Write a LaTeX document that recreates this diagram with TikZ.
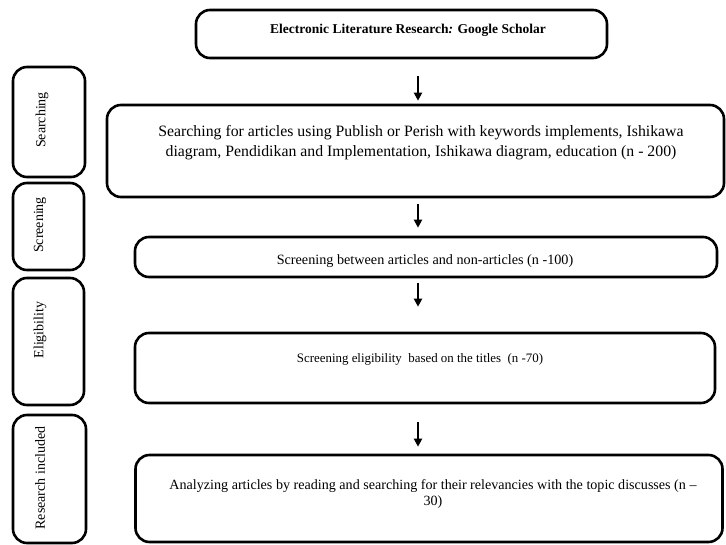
\documentclass[tikz,border=0pt]{standalone}
\usepackage{fontspec}
\setmainfont{Liberation Serif}
\usetikzlibrary{arrows.meta}
\begin{document}
\begin{tikzpicture}[x=1pt,y=-1pt,
  box/.style={draw=black, line width=2.6pt, rounded corners=14pt, inner sep=0pt},
  flow/.style={line width=2pt, -{Triangle[width=8pt,length=8pt]}},
  side/.style={rotate=90, font=\fontsize{14}{16}\selectfont},
  txt/.style={align=center, inner sep=0pt},
]
\useasboundingbox (0,0) rectangle (726,545);
% main boxes
\node[box, minimum width=411pt, minimum height=48pt] (top) at (401.5,34) {};
\node[box, minimum width=617pt, minimum height=92pt] (s2) at (415.5,151) {};
\node[box, minimum width=582pt, minimum height=40pt] (s3) at (426,257) {};
\node[box, minimum width=580pt, minimum height=70pt] (s4) at (425,368) {};
\node[box, minimum width=587pt, minimum height=87pt] (s5) at (429,498.5) {};
% side boxes
\node[box, minimum width=72pt, minimum height=110pt] (l1) at (49,122) {};
\node[box, minimum width=71pt, minimum height=87pt] (l2) at (48.5,226.5) {};
\node[box, minimum width=71pt, minimum height=127pt] (l3) at (48.5,341.5) {};
\node[box, minimum width=73pt, minimum height=128pt] (l4) at (49.5,479) {};
% texts
\node[txt, font=\bfseries\fontsize{13.5}{16}\selectfont] (ttop) at (408,30) {Electronic Literature Research\textit{:} Google Scholar};
\node[txt, font=\fontsize{15.8}{20}\selectfont] (t2) at (421,143) {Searching for articles using Publish or Perish with keywords implements, Ishikawa\\diagram, Pendidikan and Implementation, Ishikawa diagram, education (n - 200)};
\node[txt, font=\fontsize{14.2}{16}\selectfont] (t3) at (425,261) {Screening between articles and non-articles (n -100)};
\node[txt, font=\fontsize{12.9}{16}\selectfont] (t4) at (420,359) {Screening eligibility\ \ based on the titles\ \ (n -70)};
\node[txt, font=\fontsize{14.1}{16}\selectfont] (t5) at (433,494) {Analyzing articles by reading and searching for their relevancies with the topic discusses (n –\\30)};
\node[side] (sl1) at (42,120) {Searching};
\node[side] (sl2) at (40,225) {Screening};
\node[side] (sl3) at (40,330) {Eligibility};
\node[side] (sl4) at (40,478) {Research included};
% arrows
\coordinate (ax) at (418,0);
\draw[flow, shorten <=17pt, shorten >=3pt] (top.south -| ax) -- (s2.north -| ax);
\draw[flow, shorten <=6pt, shorten >=8pt] (s2.south -| ax) -- (s3.north -| ax);
\draw[flow, shorten <=5pt, shorten >=25pt] (s3.south -| ax) -- (s4.north -| ax);
\draw[flow, shorten <=18pt, shorten >=7pt] (s4.south -| ax) -- (s5.north -| ax);
\end{tikzpicture}
\end{document}
